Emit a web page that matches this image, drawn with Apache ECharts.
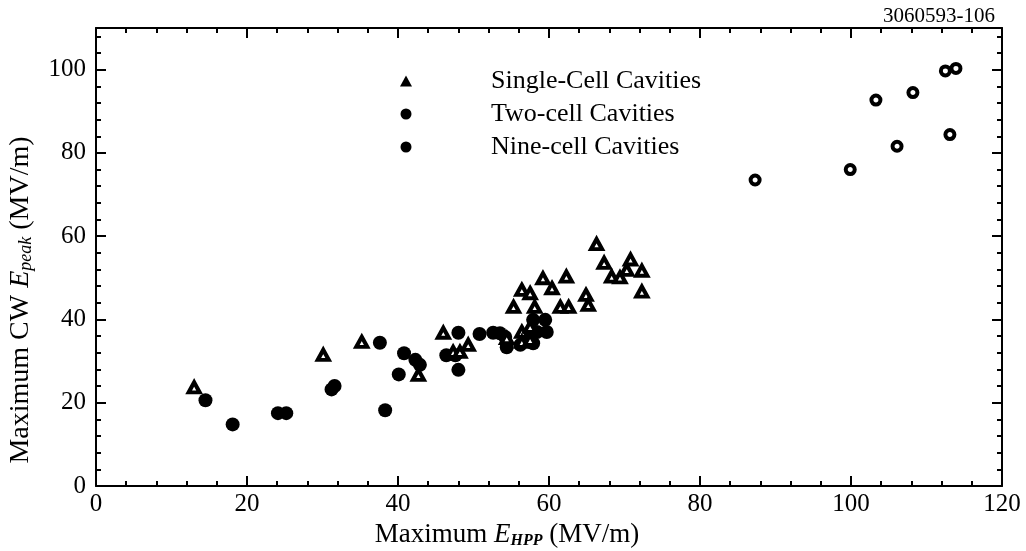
<!DOCTYPE html>
<html>
<head>
<meta charset="utf-8">
<script src="https://cdn.jsdelivr.net/npm/echarts@6/dist/echarts.min.js"></script>
<style>html,body{margin:0;padding:0;background:#fff;}#c{width:1026px;height:551px;}</style>
</head>
<body>
<div id="c"></div>
<script>
// Data
const singleCell = [
  [13.0,23.7],[30.1,31.5],[35.2,34.6],[42.7,26.7],[46.0,36.8],[47.3,32.2],[48.2,32.2],[49.3,33.9],
  [54.4,35.5],[55.3,43.0],[56.4,47.1],[57.5,46.3],[58.1,43.0],[59.2,49.9],[60.4,47.5],[62.3,50.3],
  [61.5,43.0],[62.6,43.0],[64.9,45.9],[65.2,43.5],[56.4,37.0],[56.4,34.6],[57.5,38.2],[57.5,35.1],
  [66.3,58.1],[67.3,53.6],[68.3,50.3],[69.4,50.1],[70.3,51.9],[70.8,54.4],[72.3,51.7],[72.3,46.7]
];
const twoCell = [
  [87.3,73.5],[99.9,76.0],[103.3,92.7],[106.1,81.6],[108.2,94.5],[112.5,99.7],[113.1,84.4],[113.9,100.3]
];
const nineCell = [
  [14.5,20.6],[18.1,14.8],[24.1,17.5],[25.2,17.5],[31.2,23.2],[31.6,24.0],[37.6,34.4],[38.3,18.2],
  [40.1,26.8],[40.8,31.9],[42.3,30.3],[42.9,29.1],[46.4,31.4],[47.6,31.4],[48.0,27.9],[48.0,36.8],
  [50.8,36.5],[52.6,36.8],[53.5,36.7],[54.4,33.3],[54.2,35.8],[56.2,33.9],[57.0,35.8],[57.9,34.3],
  [58.4,37.0],[57.9,39.9],[59.5,39.9],[59.7,37.0]
];
const seriesNames = ['Single-Cell Cavities','Two-cell Cavities','Nine-cell Cavities'];
const yMajor = [0,20,40,60,80,100];
const yMinor = [];
for (let v = 4; v < 110; v += 4) { if (v % 20 !== 0) yMinor.push(v); }
const figId = '3060593-106';

const FONT = 'Liberation Serif';
const black = '#000';
const lineStyle = {color: black, width: 2};
const FS = 25;   // tick labels
const NS = 27;   // axis titles

function xAx(pos, showLabel) {
  return {
    type: 'value', min: 0, max: 120, interval: 20, position: pos,
    axisLine: {show: true, onZero: false, lineStyle},
    axisTick: {show: true, inside: true, length: 10, lineStyle: {color: black, width: 2}},
    minorTick: {show: true, splitNumber: 5, length: 5, lineStyle: {color: black, width: 2}},
    splitLine: {show: false}, minorSplitLine: {show: false},
    axisLabel: {show: showLabel, color: black, fontFamily: FONT, fontSize: FS, margin: 6},
    name: showLabel ? '{n|Maximum }{e|E}{s|HPP}{n| (MV/m)}' : '',
    nameLocation: 'middle', nameGap: 32,
    nameTextStyle: {padding: [0, 84, 0, 0], rich: {
      n: {fontFamily: FONT, fontSize: NS, color: black},
      e: {fontFamily: FONT, fontSize: NS, fontStyle: 'italic', color: black},
      s: {fontFamily: FONT, fontSize: 16, fontStyle: 'italic', fontWeight: 'bold', color: black, padding: [11,0,0,0]}
    }}
  };
}
function yAx(pos, showLabel, ticks, len, showLine) {
  return {
    type: 'value', min: 0, max: 110, position: pos,
    axisLine: {show: showLine, onZero: false, lineStyle},
    axisTick: {show: true, inside: true, length: len, customValues: ticks, lineStyle: {color: black, width: 2}},
    splitLine: {show: false},
    axisLabel: {show: showLabel, customValues: yMajor, color: black, fontFamily: FONT, fontSize: FS, margin: 10},
    name: showLabel ? '{n|Maximum CW }{e|E}{s|peak}{n| (MV/m)}' : '',
    nameLocation: 'middle', nameGap: 61, nameRotate: 90,
    nameTextStyle: {padding: [0, 86, 0, 0], rich: {
      n: {fontFamily: FONT, fontSize: 28, color: black},
      e: {fontFamily: FONT, fontSize: 28, fontStyle: 'italic', color: black},
      s: {fontFamily: FONT, fontSize: 18, fontStyle: 'italic', color: black, padding: [11,0,0,0]}
    }}
  };
}

const chart = echarts.init(document.getElementById('c'), null, {renderer: 'canvas'});
chart.setOption({
  animation: false,
  backgroundColor: '#fff',
  grid: {left: 96, right: 24, top: 28, bottom: 65, containLabel: false, outerBoundsMode: 'none'},
  title: {text: figId, right: 26, top: 1, textStyle: {fontFamily: FONT, fontSize: 21, fontWeight: 'normal', color: black}},
  xAxis: [xAx('bottom', true), xAx('top', false)],
  yAxis: [
    yAx('left', true, yMajor, 10, true),
    yAx('right', false, yMajor, 10, true),
    yAx('left', false, yMinor, 5, false),
    yAx('right', false, yMinor, 5, false)
  ],
  legend: {
    orient: 'vertical', left: 395, top: 63, itemGap: 7, itemWidth: 12, itemHeight: 11,
    data: [
      {name: seriesNames[0], icon: 'triangle', itemStyle: {color: black, borderColor: black, borderWidth: 0}},
      {name: seriesNames[1], icon: 'circle', itemStyle: {color: black, borderColor: black, borderWidth: 0}},
      {name: seriesNames[2], icon: 'circle', itemStyle: {color: black, borderColor: black, borderWidth: 0}}
    ],
    textStyle: {fontFamily: FONT, fontSize: 26, color: black, padding: [0,0,0,74], lineHeight: 26}
  },
  series: [
    {name: seriesNames[2], type: 'scatter', data: nineCell, symbol: 'circle', symbolSize: 14,
     itemStyle: {color: black, opacity: 1}, z: 2},
    {name: seriesNames[0], type: 'scatter', data: singleCell, symbol: 'triangle', symbolSize: [11, 10],
     itemStyle: {color: '#fff', borderColor: black, borderWidth: 4, opacity: 1}, z: 3},
    {name: seriesNames[1], type: 'scatter', data: twoCell, symbol: 'circle', symbolSize: 9,
     itemStyle: {color: '#fff', borderColor: black, borderWidth: 4, opacity: 1}, z: 3}
  ]
});
</script>
</body>
</html>
